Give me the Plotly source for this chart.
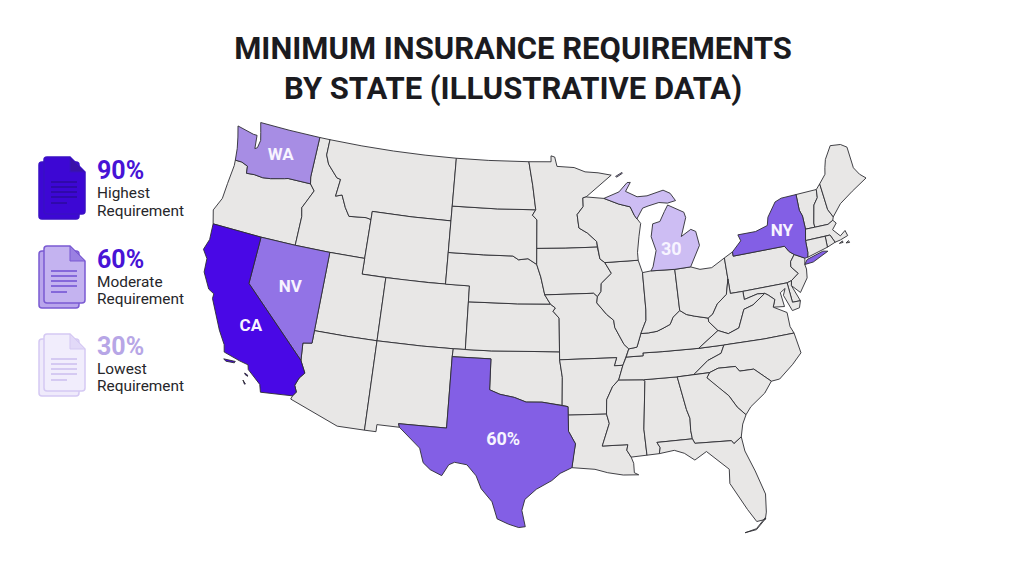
import math
import plotly.graph_objects as go

# ---------- data: approximate state outlines as (longitude, latitude) ----------
WA = [(-124.7,48.38),(-123.1,48.15),(-122.75,48.15),(-122.6,47.3),(-122.4,47.4),(-122.3,47.9),(-122.5,48.4),(-122.76,49),(-120,49),(-117.03,49),(-117.04,46.42),(-116.92,45.99),(-118.98,46),(-119.3,45.93),(-120.5,45.72),(-121.2,45.65),(-122,45.7),(-122.7,45.65),(-122.8,46.1),(-123.4,46.25),(-124,46.25),(-124.05,46.7),(-124.15,47),(-124.4,47.7)]
OR = [(-124,46.25),(-123.4,46.25),(-122.8,46.1),(-122.7,45.65),(-122,45.7),(-121.2,45.65),(-120.5,45.72),(-119.3,45.93),(-118.98,46),(-116.92,45.99),(-116.46,45.6),(-116.85,44.95),(-117.2,44.4),(-117.03,43.85),(-117.03,42),(-120,42),(-122,42),(-124.21,42),(-124.55,42.84),(-124.1,43.7),(-124.05,44.7),(-123.95,45.9)]
ID = [(-117.03,49),(-116.05,49),(-116.05,48),(-115.7,47.45),(-114.7,46.7),(-114.35,46.65),(-114.5,45.55),(-113.95,45.7),(-113.45,44.95),(-113,44.45),(-111.5,44.55),(-111.05,44.48),(-111.05,42),(-114.04,42),(-117.03,42),(-117.03,43.85),(-117.2,44.4),(-116.85,44.95),(-116.46,45.6),(-116.92,45.99),(-117.04,46.42)]
MT = [(-116.05,49),(-113,49),(-110,49),(-107,49),(-104.05,49),(-104.05,45.94),(-104.05,45),(-107.5,45),(-111.05,45),(-111.05,44.48),(-111.5,44.55),(-113,44.45),(-113.45,44.95),(-113.95,45.7),(-114.5,45.55),(-114.35,46.65),(-114.7,46.7),(-115.7,47.45),(-116.05,48)]
WY = [(-111.05,45),(-107.5,45),(-104.05,45),(-104.05,43),(-104.05,41),(-107.5,41),(-109.05,41),(-111.05,41),(-111.05,42),(-111.05,44.48)]
UT = [(-114.04,42),(-111.05,42),(-111.05,41),(-109.05,41),(-109.05,37),(-111.5,37),(-114.05,37)]
NV = [(-120,42),(-117.03,42),(-114.04,42),(-114.05,37),(-114.05,36.2),(-114.75,36.1),(-114.63,35),(-120,39)]
CA = [(-124.21,42),(-122,42),(-120,42),(-120,39),(-114.63,35),(-114.15,34.27),(-114.5,33.9),(-114.72,33.4),(-114.5,33),(-114.72,32.72),(-117.12,32.53),(-117.3,33),(-118.4,33.75),(-118.5,34.03),(-119.2,34.15),(-120.5,34.45),(-120.65,34.9),(-121.3,35.7),(-121.9,36.6),(-122.5,37.5),(-122.5,37.8),(-123,38),(-123.75,38.95),(-123.85,39.8),(-124.35,40.3),(-124.1,41)]
CA_ISLAND_1 = [(-120.4,34.03),(-119.5,34.05),(-119.55,33.95),(-120.2,33.92)]
CA_ISLAND_2 = [(-118.6,33.48),(-118.35,33.4),(-118.33,33.32),(-118.55,33.4)]
CA_ISLAND_3 = [(-118.6,33.03),(-118.35,32.82),(-118.42,32.8),(-118.6,32.97)]
AZ = [(-114.05,37),(-111.5,37),(-109.05,37),(-109.05,31.33),(-111.07,31.33),(-114.81,32.5),(-114.72,32.72),(-114.5,33),(-114.72,33.4),(-114.5,33.9),(-114.15,34.27),(-114.63,35),(-114.75,36.1),(-114.05,36.2)]
CO = [(-109.05,41),(-105.5,41),(-102.05,41),(-102.05,40),(-102.05,37),(-103,37),(-105.5,37),(-109.05,37)]
NM = [(-109.05,37),(-105.5,37),(-103,37),(-103.04,36.5),(-103.06,32),(-106.62,32),(-106.53,31.78),(-108.2,31.78),(-108.2,31.33),(-109.05,31.33)]
TX = [(-103.04,36.5),(-100,36.5),(-100,34.56),(-99.2,34.3),(-98.1,34.13),(-97.2,33.85),(-96,33.85),(-94.48,33.64),(-94.04,33.55),(-94.04,33.02),(-94.04,32),(-93.55,31.2),(-93.7,30.55),(-93.85,29.7),(-94.7,29.35),(-95.3,28.9),(-96.4,28.35),(-97.2,27.7),(-97.4,27),(-97.15,25.96),(-97.6,25.9),(-98.3,26.1),(-99.1,26.42),(-99.5,27.5),(-100.3,28.3),(-100.7,29.1),(-101.4,29.77),(-102.3,29.88),(-102.7,29.7),(-103.15,28.98),(-104,29.3),(-104.55,29.7),(-104.9,30.6),(-106,31.4),(-106.53,31.78),(-106.62,32),(-103.06,32)]
OK = [(-103,37),(-100,37),(-94.62,37),(-94.62,36.5),(-94.43,35.4),(-94.48,33.64),(-96,33.85),(-97.2,33.85),(-98.1,34.13),(-99.2,34.3),(-100,34.56),(-100,36.5),(-103.04,36.5)]
KS = [(-102.05,40),(-98,40),(-95.31,40),(-94.9,39.75),(-95.1,39.55),(-94.61,39.11),(-94.62,37),(-98,37),(-100,37),(-102.05,37)]
NE = [(-104.05,43),(-101,43),(-98.5,43),(-98,42.77),(-97.2,42.85),(-96.45,42.49),(-96.1,41.7),(-95.9,41),(-95.77,40.58),(-95.31,40),(-98,40),(-102.05,40),(-102.05,41),(-104.05,41)]
SD = [(-104.05,45.94),(-100,45.94),(-96.56,45.94),(-96.85,45.6),(-96.45,45.3),(-96.45,43.5),(-96.45,42.49),(-97.2,42.85),(-98,42.77),(-98.5,43),(-101,43),(-104.05,43),(-104.05,45)]
ND = [(-104.05,49),(-101,49),(-97.23,49),(-96.85,47.5),(-96.56,45.94),(-100,45.94),(-104.05,45.94)]
MN = [(-97.23,49),(-95.15,49),(-95.15,49.38),(-94.8,49.3),(-94.6,48.7),(-93,48.6),(-92,48.3),(-90.8,48.2),(-89.6,48),(-92,46.7),(-92.3,46.65),(-92.3,46.1),(-92.87,45.6),(-92.75,44.75),(-92,44.4),(-91.25,43.85),(-91.22,43.5),(-94,43.5),(-96.45,43.5),(-96.45,45.3),(-96.85,45.6),(-96.56,45.94),(-96.85,47.5)]
IA = [(-96.45,43.5),(-94,43.5),(-91.22,43.5),(-91.05,42.75),(-90.65,42.5),(-90.15,41.8),(-91.05,41.2),(-91.1,40.7),(-91.42,40.38),(-91.73,40.61),(-95.77,40.58),(-95.9,41),(-96.1,41.7),(-96.45,42.49)]
MO = [(-95.77,40.58),(-91.73,40.61),(-91.42,40.38),(-91.5,40),(-90.75,39.25),(-90.2,38.85),(-90.15,38.4),(-89.5,37.3),(-89.15,37),(-89.4,36.5),(-89.7,36),(-90.37,36),(-90.15,36.5),(-94.62,36.5),(-94.62,37),(-94.61,39.11),(-95.1,39.55),(-94.9,39.75),(-95.31,40)]
AR = [(-94.62,36.5),(-90.15,36.5),(-90.37,36),(-89.7,36),(-90.1,35.1),(-90.6,34.7),(-91.1,33.9),(-91.17,33),(-94.04,33.02),(-94.04,33.55),(-94.48,33.64),(-94.43,35.4)]
LA = [(-94.04,33.02),(-91.17,33),(-91,32.4),(-91.6,31),(-89.73,31),(-89.83,30.65),(-89.55,30.2),(-89.4,29.8),(-89.4,29.2),(-89.1,29.05),(-90.2,29.1),(-91.3,29.3),(-92.2,29.55),(-93.85,29.7),(-93.7,30.55),(-93.55,31.2),(-94.04,32)]
MS = [(-91.17,33),(-91.1,33.9),(-90.6,34.7),(-90.1,35.1),(-88.2,35),(-88.1,34.9),(-88.47,31.9),(-88.4,30.25),(-89.55,30.2),(-89.83,30.65),(-89.73,31),(-91.6,31),(-91,32.4)]
AL = [(-88.2,35),(-85.6,34.98),(-85.18,32.87),(-85,32.3),(-85.05,31.55),(-85,31),(-87.6,31),(-87.4,30.65),(-87.5,30.28),(-88.4,30.25),(-88.47,31.9),(-88.1,34.9)]
TN = [(-90.1,35.1),(-89.7,36),(-89.4,36.5),(-88.07,36.5),(-88.07,36.68),(-86.5,36.65),(-83.68,36.6),(-81.68,36.59),(-82,36.1),(-83.1,35.77),(-84.32,35),(-85.6,34.98),(-88.2,35)]
KY = [(-89.4,36.5),(-89.15,37),(-88.5,37.07),(-88.1,37.9),(-87.5,37.9),(-86.8,37.95),(-86.3,38.1),(-85.7,38.3),(-85.4,38.73),(-84.8,39.1),(-84.3,38.8),(-83.65,38.63),(-82.6,38.4),(-82.6,38.17),(-81.97,37.54),(-83.68,36.6),(-86.5,36.65),(-88.07,36.68),(-88.07,36.5)]
IL = [(-91.42,40.38),(-91.1,40.7),(-91.05,41.2),(-90.15,41.8),(-90.65,42.5),(-87.8,42.5),(-87.53,41.7),(-87.53,39.35),(-87.6,38.7),(-88.1,37.9),(-88.5,37.07),(-89.15,37),(-89.5,37.3),(-90.15,38.4),(-90.2,38.85),(-90.75,39.25),(-91.5,40)]
IN = [(-87.53,41.7),(-86.8,41.76),(-84.8,41.7),(-84.8,39.1),(-85.4,38.73),(-85.7,38.3),(-86.3,38.1),(-86.8,37.95),(-87.5,37.9),(-88.1,37.9),(-87.6,38.7),(-87.53,39.35)]
OH = [(-84.8,41.7),(-83.45,41.73),(-82.7,41.5),(-81.7,41.5),(-80.52,41.98),(-80.52,40.64),(-80.85,39.7),(-81.7,39.2),(-82.2,38.6),(-82.6,38.4),(-83.65,38.63),(-84.3,38.8),(-84.8,39.1)]
MI_LOWER = [(-86.8,41.76),(-84.8,41.7),(-83.45,41.73),(-83.1,42.2),(-82.45,43),(-82.6,43.9),(-83,44.07),(-83.9,43.7),(-83.3,44.85),(-83.4,45.2),(-84.75,45.78),(-85.1,45.4),(-85.6,44.8),(-86.25,44.7),(-86.5,43.9),(-86.2,43),(-86.6,42)]
MI_UPPER = [(-90.4,46.55),(-89,46.9),(-88.2,47.45),(-87.9,47.45),(-88.4,46.9),(-87.4,46.5),(-86.5,46.5),(-85,46.75),(-84.4,46.5),(-84,46),(-84.75,45.9),(-85.5,46),(-86.5,45.85),(-87,45.75),(-87.6,45.1),(-87.8,45.35),(-88.1,45.9),(-89.1,46.13)]
MI_ISLE = [(-89.2,47.9),(-88.6,48.12),(-88.55,48.07),(-89.1,47.85)]
WI = [(-92,46.7),(-90.4,46.55),(-89.1,46.13),(-88.1,45.9),(-87.8,45.35),(-87.6,45.1),(-87.3,44.8),(-87.55,44),(-87.8,43),(-87.8,42.5),(-90.65,42.5),(-91.05,42.75),(-91.22,43.5),(-91.25,43.85),(-92,44.4),(-92.75,44.75),(-92.87,45.6),(-92.3,46.1),(-92.3,46.65)]
PA = [(-80.52,41.98),(-79.76,42.27),(-79.76,42),(-77.5,42),(-75.35,42),(-75.05,41.6),(-74.7,41.36),(-75.13,40.97),(-75.2,40.65),(-74.72,40.15),(-75.4,39.8),(-75.79,39.72),(-78,39.72),(-79.48,39.72),(-80.52,39.72),(-80.52,40.64)]
NY = [(-79.76,42.27),(-78.9,42.87),(-79.05,43.27),(-77.5,43.27),(-76.4,43.5),(-76.2,44),(-75.3,44.85),(-74.7,45),(-73.35,45.01),(-73.4,44),(-73.25,43.6),(-73.27,42.75),(-73.5,42.05),(-73.55,41.3),(-73.65,41),(-73.9,40.99),(-74.7,41.36),(-75.05,41.6),(-75.35,42),(-77.5,42),(-79.76,42)]
NY_LONG_ISLAND = [(-74.03,40.6),(-73.75,40.87),(-72.3,41.15),(-71.9,41.07),(-73.3,40.63)]
NJ = [(-74.7,41.36),(-73.9,40.99),(-74.03,40.6),(-73.98,40.3),(-74.1,39.75),(-74.9,38.95),(-75.5,39.5),(-75.4,39.8),(-74.72,40.15),(-75.2,40.65),(-75.13,40.97)]
DE = [(-75.79,39.72),(-75.4,39.8),(-75.5,39.5),(-75.05,38.45),(-75.7,38.46)]
MD = [(-79.48,39.72),(-78,39.72),(-75.79,39.72),(-75.7,38.46),(-75.05,38.45),(-75.25,38.03),(-75.85,37.95),(-76.3,39),(-76.05,39.4),(-76.5,39.2),(-76.4,38.3),(-77.3,38.4),(-77.05,38.85),(-77.5,39.2),(-77.75,39.35),(-78.35,39.4),(-79.48,39.2)]
WV = [(-80.52,40.64),(-80.52,39.72),(-79.48,39.72),(-79.48,39.2),(-78.35,39.4),(-77.75,39.35),(-78.87,38.77),(-79.65,38.6),(-80.3,37.5),(-81.2,37.25),(-81.97,37.54),(-82.6,38.17),(-82.6,38.4),(-82.2,38.6),(-81.7,39.2),(-80.85,39.7)]
VA = [(-83.68,36.6),(-81.97,37.54),(-81.2,37.25),(-80.3,37.5),(-79.65,38.6),(-78.87,38.77),(-77.75,39.35),(-77.5,39.2),(-77.05,38.85),(-77.3,38.4),(-76.3,37.9),(-76.3,37),(-76.1,36.55),(-78.5,36.55),(-81.68,36.59)]
NC = [(-84.32,35),(-83.1,35.77),(-82,36.1),(-81.68,36.59),(-78.5,36.55),(-76.1,36.55),(-75.9,35.25),(-76.7,34.65),(-77.9,33.9),(-78.55,33.86),(-79.7,34.8),(-80.8,34.82),(-81.05,35.15),(-82.4,35.2),(-83.1,35)]
SC = [(-83.1,35),(-82.4,35.2),(-81.05,35.15),(-80.8,34.82),(-79.7,34.8),(-78.55,33.86),(-79.2,33.2),(-80.4,32.5),(-80.85,32.05),(-81.4,32.6),(-81.9,33.4),(-82.6,34),(-83.35,34.7)]
GA = [(-85.6,34.98),(-84.32,35),(-83.1,35),(-83.35,34.7),(-82.6,34),(-81.9,33.4),(-81.4,32.6),(-80.85,32.05),(-81.2,31.5),(-81.45,30.72),(-82.05,30.36),(-82.2,30.57),(-84.86,30.7),(-85,31),(-85.05,31.55),(-85,32.3),(-85.18,32.87)]
FL = [(-87.5,30.28),(-87.4,30.65),(-87.6,31),(-85,31),(-84.86,30.7),(-82.2,30.57),(-82.05,30.36),(-81.45,30.72),(-81.35,29.8),(-80.85,28.45),(-80.4,26.9),(-80.55,25.75),(-80.7,25.3),(-81.3,25.25),(-81.8,26.1),(-82.2,26.9),(-82.75,27.9),(-82.65,28.8),(-83.5,29.6),(-84.1,30.1),(-85,29.65),(-85.7,30.15),(-86.4,30.4)]
FL_KEYS = [(-82.2,24.65),(-81.4,24.8),(-80.7,25.4),(-80.67,25.35),(-81.4,24.74)]
VT = [(-73.35,45.01),(-71.5,45.01),(-71.6,44.5),(-72.05,44.1),(-72.45,43),(-72.46,42.73),(-73.27,42.75),(-73.25,43.6),(-73.4,44)]
NH = [(-71.5,45.01),(-71.08,45.3),(-71,43.6),(-70.7,43.07),(-70.82,42.87),(-71.3,42.7),(-72.46,42.73),(-72.45,43),(-72.05,44.1),(-71.6,44.5)]
ME = [(-71.08,45.3),(-70.4,45.8),(-70.25,46.2),(-70,46.7),(-69.23,47.46),(-68.3,47.35),(-67.8,47.07),(-67.8,45.7),(-67.45,45.2),(-67,44.85),(-68.5,44.3),(-69.8,43.75),(-70.7,43.07),(-71,43.6)]
MA = [(-73.5,42.05),(-73.27,42.75),(-72.46,42.73),(-71.3,42.7),(-70.82,42.87),(-70.6,42.65),(-71.05,42.3),(-70.55,41.8),(-70.05,42.05),(-69.95,41.7),(-70.65,41.55),(-71.12,41.5),(-71.38,42.02),(-71.8,42.02)]
MA_VINEYARD = [(-70.8,41.36),(-70.5,41.46),(-70.48,41.36)]
MA_NANTUCKET = [(-70.25,41.28),(-70.0,41.38),(-69.96,41.25)]
RI = [(-71.8,42.02),(-71.38,42.02),(-71.12,41.5),(-71.85,41.32)]
CT = [(-73.5,42.05),(-71.8,42.02),(-71.85,41.32),(-73.65,41),(-73.55,41.3)]

PLAIN_STATES = {"OR":[OR],"ID":[ID],"MT":[MT],"WY":[WY],"UT":[UT],"AZ":[AZ],"CO":[CO],"NM":[NM],"OK":[OK],"KS":[KS],"NE":[NE],"SD":[SD],"ND":[ND],"MN":[MN],"IA":[IA],"MO":[MO],"AR":[AR],"LA":[LA],"MS":[MS],"AL":[AL],"TN":[TN],"KY":[KY],"IL":[IL],"IN":[IN],"OH":[OH],"WI":[WI],"PA":[PA],"NJ":[NJ],"DE":[DE],"MD":[MD],"WV":[WV],"VA":[VA],"NC":[NC],"SC":[SC],"GA":[GA],"FL":[FL,FL_KEYS],"VT":[VT],"NH":[NH],"ME":[ME],"MA":[MA,MA_VINEYARD,MA_NANTUCKET],"RI":[RI],"CT":[CT]}
HIGHLIGHT_STATES = {"WA":[WA],"NV":[NV],"CA":[CA,CA_ISLAND_1,CA_ISLAND_2,CA_ISLAND_3],"TX":[TX],"NY":[NY,NY_LONG_ISLAND],"MI":[MI_LOWER,MI_UPPER,MI_ISLE]}
HIGHLIGHT_COLORS = {"WA":"#a78de4","NV":"#9273e6","CA":"#4908e6","TX":"#835fe5","NY":"#835fe5","MI":"#cdbdf3"}

label_text = ["WA","NV","CA","60%","NY","30"]
label_lon = [-120.15,-116.65,-119.0,-98.85,-75.3,-84.9]
label_lat = [47.3,39.35,36.4,31.43,42.9,42.9]
label_size = [17,17,17,18,17,18]

legend_percent = ["90%","60%","30%"]
legend_name = ["Highest","Moderate","Lowest"]
legend_second_line = ["Requirement","Requirement","Requirement"]
legend_percent_color = ["#4713d6","#4713d6","#b7a6e6"]

# ---------- Albers conic projection ----------
P1, P2, LAT0, LON0 = map(math.radians, (29.5, 45.5, 37.5, -96))
N = (math.sin(P1)+math.sin(P2))/2
C = math.cos(P1)**2 + 2*N*math.sin(P1)
RHO0 = math.sqrt(C-2*N*math.sin(LAT0))/N
def project(lon, lat):
    rho = math.sqrt(C-2*N*math.sin(math.radians(lat)))/N
    th = N*(math.radians(lon)-LON0)
    return rho*math.sin(th), RHO0-rho*math.cos(th)

# The page has an 8px body margin, so the figure is 1016x564 and starts at (8,8).
OFFSET = 8
W, H = 1024-OFFSET, 572-OFFSET
KX, KY_, TX_, TY_ = 918.7, 905.0, 542.0, 344.0   # page pixels per projected unit; page pixel of the origin

fig = go.Figure()
def add_state(name, parts, color):
    xs, ys = [], []
    for part in parts:
        pts = [project(*p) for p in part + part[:1]]
        xs += [p[0] for p in pts] + [None]
        ys += [p[1] for p in pts] + [None]
    fig.add_trace(go.Scatter(x=xs, y=ys, mode="lines", fill="toself", fillcolor=color, name=name,
                             line=dict(color="#2d2d32", width=0.9), hoverinfo="name", showlegend=False))
for name, parts in PLAIN_STATES.items():
    add_state(name, parts, "#e8e7e6")
for name, parts in HIGHLIGHT_STATES.items():
    add_state(name, parts, HIGHLIGHT_COLORS[name])

lab = [project(a, b) for a, b in zip(label_lon, label_lat)]
fig.add_trace(go.Scatter(x=[p[0] for p in lab], y=[p[1] for p in lab], mode="text", text=label_text,
                         textfont=dict(family="Roboto", size=label_size, color="#f7f4ff", weight=700),
                         hoverinfo="skip", showlegend=False))

# ---------- legend document icons ----------
def fx(x): return (x-OFFSET)/W
def fy(y): return 1-(y-OFFSET)/H
def px(x, y): return f"{fx(x):.5f},{fy(y):.5f}"
def rounded(x0, y0, x1, y1, r=3):
    return (f"M{px(x0+r,y0)} L{px(x1-r,y0)} Q{px(x1,y0)} {px(x1,y0+r)} L{px(x1,y1-r)} Q{px(x1,y1)} {px(x1-r,y1)} "
            f"L{px(x0+r,y1)} Q{px(x0,y1)} {px(x0,y1-r)} L{px(x0,y0+r)} Q{px(x0,y0)} {px(x0+r,y0)} Z")
def page(x0, y0, x1, y1, f=15, r=3):
    return (f"M{px(x0+r,y0)} L{px(x1-f,y0)} L{px(x1,y0+f)} L{px(x1,y1-r)} Q{px(x1,y1)} {px(x1-r,y1)} "
            f"L{px(x0+r,y1)} Q{px(x0,y1)} {px(x0,y1-r)} L{px(x0,y0+r)} Q{px(x0,y0)} {px(x0+r,y0)} Z")
ICONS = [
    (0,   "#3d07d4", "#3d07d4", "#3a10c4", "#3a12a8", "#2b0a9a"),
    (89,  "#b9a5ec", "#c4b3f0", "#7a5ad2", "#9a80e2", "#6a48d0"),
    (177, "#efeafb", "#f1edfc", "#d5c9f3", "#e2d9f8", "#c9baee"),
]
shapes = []
for dy, back, front, stroke, fold, line in ICONS:
    shapes.append(dict(type="path", xref="paper", yref="paper", path=rounded(39, 162+dy, 79, 219+dy), fillcolor=back, line=dict(color=stroke, width=1.5)))
    shapes.append(dict(type="path", xref="paper", yref="paper", path=page(44, 157+dy, 85, 214+dy), fillcolor=front, line=dict(color=stroke, width=1.5)))
    shapes.append(dict(type="path", xref="paper", yref="paper", path=f"M{px(70,157+dy)} L{px(70,172+dy)} L{px(85,172+dy)} Z", fillcolor=fold, line=dict(color=stroke, width=1)))
    for i, ly in enumerate((182, 187, 192, 197, 203)):
        x1 = 67 if i == 4 else 77
        shapes.append(dict(type="path", xref="paper", yref="paper", path=f"M{px(51,ly+dy)} L{px(x1,ly+dy)}", line=dict(color=line, width=1.4)))

annotations = []
for i, (y0, y1, y2) in enumerate(((170, 193, 211), (259, 282, 299), (346, 369, 386))):
    annotations.append(dict(text=legend_percent[i], xref="paper", yref="paper", x=fx(95), y=fy(y0), xanchor="left", yanchor="middle", showarrow=False,
                            font=dict(family="Roboto", size=25, color=legend_percent_color[i], weight=700)))
    annotations.append(dict(text=legend_name[i], xref="paper", yref="paper", x=fx(95), y=fy(y1), xanchor="left", yanchor="middle", showarrow=False,
                            font=dict(family="Roboto", size=15.4, color="#26262a")))
    annotations.append(dict(text=legend_second_line[i], xref="paper", yref="paper", x=fx(95), y=fy(y2), xanchor="left", yanchor="middle", showarrow=False,
                            font=dict(family="Roboto", size=15.4, color="#26262a")))

fig.update_layout(
    width=W, height=H, margin=dict(l=0, r=0, t=0, b=0), paper_bgcolor="white", plot_bgcolor="white",
    xaxis=dict(visible=False, range=[(OFFSET-TX_)/KX, (OFFSET+W-TX_)/KX], fixedrange=True),
    yaxis=dict(visible=False, range=[(TY_-OFFSET-H)/KY_, (TY_-OFFSET)/KY_], fixedrange=True),
    shapes=shapes, annotations=annotations, showlegend=False,
    title=dict(text="MINIMUM INSURANCE REQUIREMENTS<br>BY STATE (ILLUSTRATIVE DATA)", x=fx(513), xanchor="center", y=fy(58.5), yanchor="middle",
               font=dict(family="Roboto", size=31, color="#1b1b1f", weight=700)),
)
fig.write_html("out.html")
